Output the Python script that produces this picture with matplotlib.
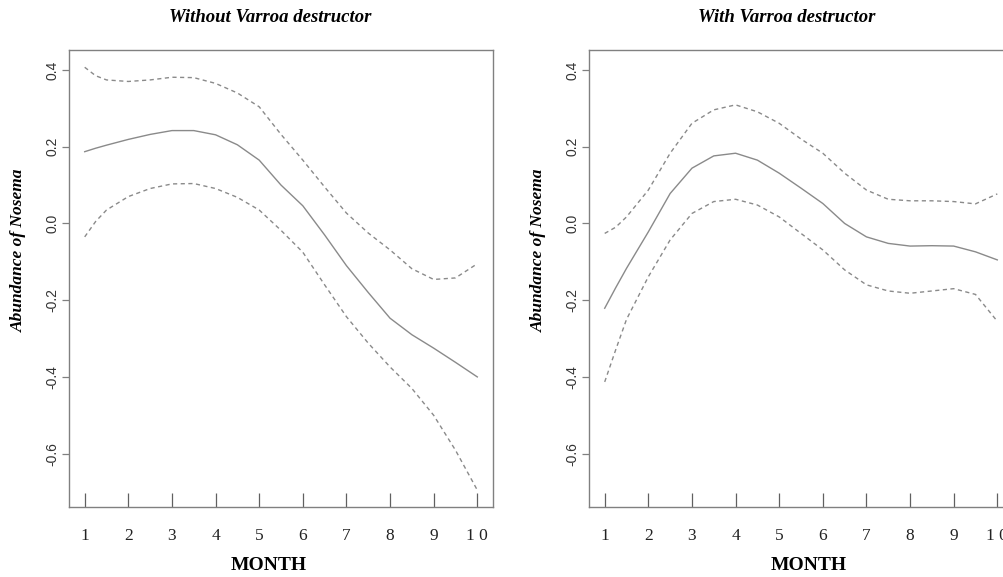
import matplotlib
matplotlib.use("Agg")
import matplotlib.pyplot as plt

# month grid
months = [1, 1.25, 1.5, 2, 2.5, 3, 3.5, 4, 4.5, 5, 5.5, 6, 6.5, 7, 7.5, 8, 8.5, 9, 9.5, 10]
rug_months = [1, 2, 3, 4, 5, 6, 7, 8, 9, 10]
month_labels = ["1", "2", "3", "4", "5", "6", "7", "8", "9", "1 0"]
y_ticks = [-0.6, -0.4, -0.2, 0.0, 0.2, 0.4]
y_tick_labels = ["-0.6", "-0.4", "-0.2", "0.0", "0.2", "0.4"]

# without Varroa
fit_without = [0.187, 0.196, 0.204, 0.219, 0.232, 0.242, 0.242, 0.231, 0.205, 0.165, 0.100,
               0.046, -0.030, -0.110, -0.180, -0.247, -0.290, -0.325, -0.362, -0.400]
upper_without = [0.407, 0.385, 0.374, 0.370, 0.374, 0.381, 0.380, 0.365, 0.340, 0.304, 0.232,
                 0.165, 0.095, 0.027, -0.025, -0.069, -0.118, -0.146, -0.142, -0.105]
lower_without = [-0.035, 0.005, 0.035, 0.070, 0.091, 0.103, 0.104, 0.091, 0.068, 0.035, -0.018,
                 -0.075, -0.160, -0.243, -0.312, -0.374, -0.430, -0.500, -0.591, -0.695]

# with Varroa
fit_with = [-0.221, -0.168, -0.117, -0.022, 0.078, 0.144, 0.176, 0.183, 0.165, 0.131, 0.092,
            0.052, 0.000, -0.035, -0.052, -0.059, -0.058, -0.059, -0.074, -0.095]
upper_with = [-0.026, -0.010, 0.017, 0.087, 0.183, 0.261, 0.296, 0.309, 0.291, 0.261, 0.220,
              0.183, 0.131, 0.087, 0.063, 0.059, 0.059, 0.057, 0.051, 0.077]
lower_with = [-0.413, -0.330, -0.250, -0.139, -0.043, 0.026, 0.057, 0.063, 0.048, 0.017, -0.026,
              -0.069, -0.121, -0.160, -0.176, -0.182, -0.176, -0.170, -0.185, -0.255]

W, H = 1004, 577
fig = plt.figure(figsize=(W / 100, H / 100), dpi=100)

box_col = "#808080"
line_col = "#8a8a8a"
serif = ["Liberation Serif", "DejaVu Serif"]
sans = ["Liberation Sans", "DejaVu Sans"]


def panel(left_px, fit, upper, lower, title, title_x, ylab_x, month_x):
    ax = fig.add_axes([left_px / W, (H - 507) / H, 424 / W, 457 / H])
    ax.plot(months, fit, color=line_col, lw=1.0)
    ax.plot(months, upper, color=line_col, lw=1.0, ls=(0, (3, 2.5)))
    ax.plot(months, lower, color=line_col, lw=1.0, ls=(0, (3, 2.5)))
    # rug
    ax.vlines(rug_months, 0, 0.031, color="#606060", lw=0.9,
              transform=ax.get_xaxis_transform())
    ax.set_xlim(0.64, 10.36)
    ax.set_ylim(-0.739, 0.452)
    for s in ax.spines.values():
        s.set_color(box_col)
        s.set_linewidth(1.0)
    ax.set_yticks(y_ticks)
    ax.set_yticklabels(y_tick_labels, rotation=90, va="center",
                       family=sans, fontsize=10, color="#333333")
    ax.tick_params(axis="y", length=5, width=0.9, color=box_col, pad=2)
    ax.set_xticks(rug_months)
    ax.set_xticklabels(month_labels, family=serif, fontsize=12.5, color="#222222")
    ax.tick_params(axis="x", length=0, pad=15)
    ax.set_xticks([2, 4, 6, 8, 10], minor=True)
    ax.tick_params(axis="x", which="minor", length=5, width=0.9, color="#606060")
    fig.text(title_x / W, 1 - 17 / H, title, ha="center", va="center",
             family=serif, style="italic", weight="bold", fontsize=13.5)
    fig.text(ylab_x / W, 1 - 250 / H, "Abundance of Nosema", ha="center", va="center",
             rotation=90, family=serif, style="italic", weight="bold", fontsize=12.5)
    fig.text(month_x / W, 1 - 565 / H, "MONTH", ha="center", va="center",
             family=serif, weight="bold", fontsize=14)
    return ax


panel(69, fit_without, upper_without, lower_without,
      "Without Varroa destructor", 270, 19, 269)
panel(589, fit_with, upper_with, lower_with,
      "With Varroa destructor", 787, 539, 809)

fig.savefig("out.png", dpi=100, facecolor="white")
